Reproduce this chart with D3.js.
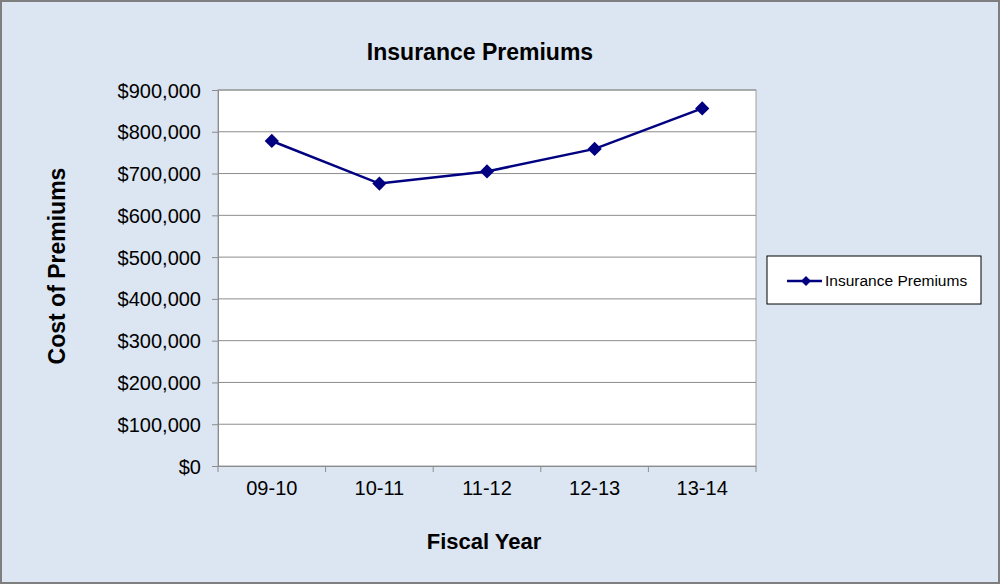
<!DOCTYPE html>
<html>
<head>
<meta charset="utf-8">
<script src="https://cdn.jsdelivr.net/npm/d3@7"></script>
<style>
  body { margin: 0; background: #fff; }
  text { font-family: "Liberation Sans", Arial, sans-serif; fill: #000; }
</style>
</head>
<body>
<div class="chart"></div>
<script>
const years = ['09-10', '10-11', '11-12', '12-13', '13-14'];
const premiums = [778000, 676000, 705000, 759000, 856000];
const yTicks = [0, 100000, 200000, 300000, 400000, 500000, 600000, 700000, 800000, 900000];
const seriesName = 'Insurance Premiums';

let W = 1000, H = 584;
let margin = { top: 90, right: 244, bottom: 118, left: 218 },
    width = W - margin.left - margin.right,
    height = H - margin.top - margin.bottom;

let svg = d3.select('.chart').append('svg')
    .attr('width', W)
    .attr('height', H);

// outer frame
svg.append('rect')
    .attr('x', 1).attr('y', 1)
    .attr('width', W - 2).attr('height', H - 2)
    .attr('fill', '#dce6f2')
    .attr('stroke', '#7f7f7f')
    .attr('stroke-width', 2);

let x = d3.scaleBand().domain(years).range([0, width]),
    y = d3.scaleLinear().domain([0, 900000]).range([height, 0]);

let g = svg.append('g')
    .attr('transform', 'translate(' + margin.left + ',' + margin.top + ')');

g.append('rect')
    .attr('width', width).attr('height', height)
    .attr('fill', '#fff')
    .attr('stroke', '#a0a0a0');

// gridlines
g.selectAll('.grid')
    .data(yTicks.slice(1))
    .enter().append('line')
    .attr('x1', 0).attr('x2', width)
    .attr('y1', d => y(d)).attr('y2', d => y(d))
    .attr('stroke', '#8c8c8c');

let fmt = d => '$' + d3.format(',')(d);

let yAxis = g.append('g')
    .call(d3.axisLeft(y).tickValues(yTicks).tickFormat(fmt).tickSize(6).tickPadding(11));
yAxis.select('.domain').attr('stroke', '#8c8c8c');
yAxis.selectAll('.tick line').attr('stroke', '#8c8c8c');
yAxis.selectAll('text').style('font-size', '20px').attr('dy', '0.35em');

// x axis ticks sit on band edges
let xAxis = g.append('g')
    .attr('transform', 'translate(0,' + height + ')')
    .call(d3.axisBottom(x).tickSize(0).tickPadding(15));
xAxis.select('.domain').attr('stroke', '#8c8c8c');
xAxis.selectAll('text').style('font-size', '20px');
g.selectAll('.xtick')
    .data(years.concat(['end']))
    .enter().append('line')
    .attr('x1', (d, i) => i * x.bandwidth()).attr('x2', (d, i) => i * x.bandwidth())
    .attr('y1', height).attr('y2', height + 6)
    .attr('stroke', '#8c8c8c');

let line = d3.line()
    .x((d, i) => x(years[i]) + x.bandwidth() / 2)
    .y(d => y(d));

g.append('path')
    .datum(premiums)
    .attr('d', line)
    .attr('fill', 'none')
    .attr('stroke', '#000080')
    .attr('stroke-width', 2.5);

let diamond = d3.symbol().type(d3.symbolDiamond2).size(130);
g.selectAll('.pt')
    .data(premiums)
    .enter().append('path')
    .attr('d', diamond)
    .attr('transform', (d, i) => 'translate(' + (x(years[i]) + x.bandwidth() / 2) + ',' + y(d) + ')')
    .attr('fill', '#000080');

// titles
svg.append('text')
    .attr('x', 480).attr('y', 60)
    .attr('text-anchor', 'middle')
    .style('font-size', '23px').style('font-weight', 'bold')
    .text('Insurance Premiums');

svg.append('text')
    .attr('x', 484).attr('y', 549)
    .attr('text-anchor', 'middle')
    .style('font-size', '22px').style('font-weight', 'bold')
    .text('Fiscal Year');

svg.append('text')
    .attr('transform', 'translate(65,' + 266 + ') rotate(-90)')
    .attr('text-anchor', 'middle')
    .style('font-size', '23px').style('font-weight', 'bold')
    .text('Cost of Premiums');

// legend
let lg = svg.append('g').attr('transform', 'translate(767,256)');
lg.append('rect')
    .attr('width', 214).attr('height', 48)
    .attr('fill', '#fff').attr('stroke', '#000');
lg.append('line')
    .attr('x1', 20).attr('x2', 55).attr('y1', 25).attr('y2', 25)
    .attr('stroke', '#000080').attr('stroke-width', 2.5);
lg.append('path')
    .attr('d', diamond)
    .attr('transform', 'translate(39,25) scale(0.7)')
    .attr('fill', '#000080');
lg.append('text')
    .attr('x', 58).attr('y', 30)
    .style('font-size', '15.5px')
    .text(seriesName);
</script>
</body>
</html>
